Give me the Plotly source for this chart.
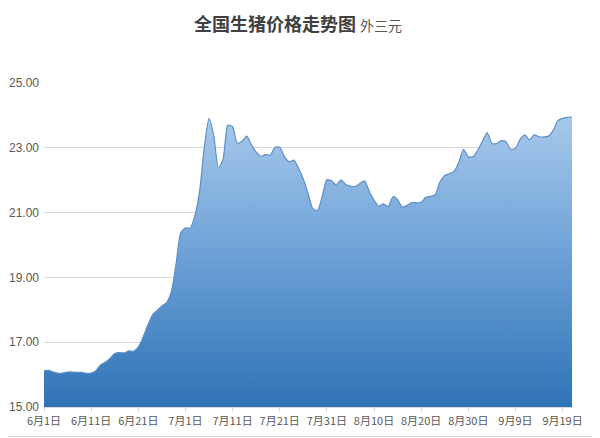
import plotly.graph_objects as go
import datetime as dt

# ---- data ----
start_date = dt.date(2022, 6, 1)
prices = [
    16.12, 16.13, 16.08, 16.04, 16.05, 16.08, 16.08, 16.07, 16.07, 16.04,
    16.05, 16.12, 16.30, 16.38, 16.50, 16.65, 16.68, 16.67, 16.73, 16.72,
    16.85, 17.15, 17.52, 17.84, 17.98, 18.12, 18.22, 18.55, 19.40, 20.38,
    20.53, 20.52, 20.90, 21.65, 23.00, 23.91, 23.38, 22.37, 22.66, 23.70,
    23.65, 23.14, 23.20, 23.36, 23.09, 22.87, 22.74, 22.79, 22.77, 23.02,
    23.02, 22.73, 22.57, 22.62, 22.37, 22.04, 21.60, 21.13, 21.06, 21.49,
    22.01, 21.98, 21.85, 22.01, 21.87, 21.82, 21.80, 21.90, 21.98, 21.65,
    21.39, 21.20, 21.27, 21.18, 21.49, 21.40, 21.17, 21.22, 21.31, 21.30,
    21.32, 21.47, 21.50, 21.55, 21.95, 22.14, 22.20, 22.28, 22.55, 22.95,
    22.72, 22.72, 22.92, 23.20, 23.47, 23.14, 23.13, 23.22, 23.19, 22.95,
    22.98, 23.26, 23.40, 23.24, 23.40, 23.34, 23.33, 23.36, 23.53, 23.84,
    23.91, 23.94, 23.95,
]
dates = [(start_date + dt.timedelta(days=i)).isoformat() for i in range(len(prices))]

tick_dates = ["2022-06-01", "2022-06-11", "2022-06-21", "2022-07-01", "2022-07-11", "2022-07-21",
              "2022-07-31", "2022-08-10", "2022-08-20", "2022-08-30", "2022-09-09", "2022-09-19"]
tick_labels = ["6月1日", "6月11日", "6月21日", "7月1日", "7月11日", "7月21日",
               "7月31日", "8月10日", "8月20日", "8月30日", "9月9日", "9月19日"]
y_ticks = [15, 17, 19, 21, 23, 25]

title_main = "全国生猪价格走势图"
title_sub = "外三元"

# ---- layout constants (page offset of 8px from default body margin compensated) ----
OFF = 8
W, H = 600 - OFF, 438 - OFF
ML, MR, MT, MB = 44 - OFF, 28, 83 - OFF, 31
PW, PH = W - ML - MR, H - MT - MB

def px_x(p):  # page pixel -> paper x
    return (p - OFF - ML) / PW

def px_y(p):  # page pixel -> paper y
    return (H - MB - (p - OFF)) / PH

FONT = "Liberation Sans, Noto Sans CJK SC, sans-serif"

fig = go.Figure()
fig.add_trace(go.Scatter(
    x=dates, y=prices,
    mode="lines",
    line=dict(color="#5e8fc7", width=1.2, shape="spline", smoothing=0.6),
    fill="tozeroy",
    fillgradient=dict(type="vertical", start=15, stop=24,
                      colorscale=[[0, "#2e73b5"], [0.5, "#6a9fd6"], [1, "#a8c9ea"]]),
    hoverinfo="skip",
    showlegend=False,
))

fig.update_layout(
    width=W, height=H,
    margin=dict(l=ML, r=MR, t=MT, b=MB, autoexpand=False),
    paper_bgcolor="white", plot_bgcolor="white",
    font=dict(family=FONT, color="#595959", size=11),
    xaxis=dict(
        type="date",
        range=[dates[0], dates[-1]],
        tickvals=tick_dates, ticktext=tick_labels,
        showgrid=False,
        showline=True, linecolor="#d9d9d9", linewidth=1,
        ticks="outside", ticklen=4, tickcolor="#d9d9d9",
        tickfont=dict(size=11, color="#595959", family="Noto Sans CJK SC"),
        zeroline=False, fixedrange=True,
    ),
    yaxis=dict(
        range=[15, 25],
        tickvals=y_ticks, tickformat=".2f",
        showgrid=True, gridcolor="#d9d9d9", gridwidth=1,
        showline=False, zeroline=False,
        ticks="", ticklabelstandoff=4,
        tickfont=dict(size=12, color="#595959"),
        fixedrange=True,
    ),
    annotations=[dict(
        text=f"<b>{title_main}</b> <span style='font-size:14px;color:#595959'>{title_sub}</span>",
        xref="paper", yref="paper",
        x=px_x(298), y=px_y(23),
        xanchor="center", yanchor="middle",
        showarrow=False,
        font=dict(family="Noto Sans CJK SC", size=18, color="#404040"),
    )],
    shapes=[
        dict(type="line", xref="paper", yref="paper",
             x0=px_x(594.5), x1=px_x(594.5), y0=px_y(436.5), y1=px_y(OFF),
             line=dict(color="#d9d9d9", width=1), layer="below"),
        dict(type="line", xref="paper", yref="paper",
             x0=px_x(OFF), x1=px_x(594.5), y0=px_y(436.5), y1=px_y(436.5),
             line=dict(color="#d9d9d9", width=1), layer="below"),
    ],
)

fig.write_html("out.html")
